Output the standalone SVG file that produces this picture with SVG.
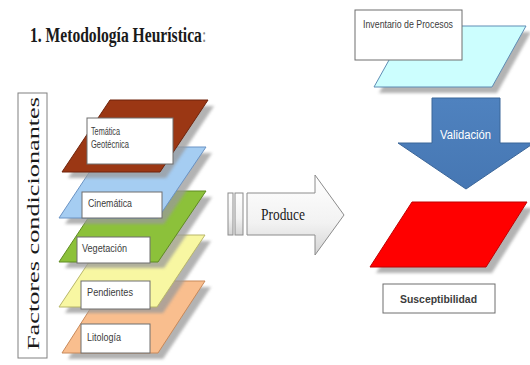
<svg xmlns="http://www.w3.org/2000/svg" width="530" height="365" viewBox="0 0 530 365">
<style>
.shadow{fill:#9a9a9a;opacity:0.75;filter:url(#blur)}
.lbl{fill:#ffffff;stroke:#6e6e6e;stroke-width:1}
.lt{font-family:"Liberation Sans",Arial,sans-serif;font-size:10px;fill:#3c3c3c}
.serif{font-family:"Liberation Serif","Times New Roman",serif}
</style>
<defs>
<filter id="blur" x="-10%" y="-10%" width="130%" height="130%"><feGaussianBlur stdDeviation="1.5"/></filter>
<linearGradient id="gProd" x1="0" y1="0" x2="0" y2="1">
<stop offset="0" stop-color="#ffffff"/>
<stop offset="0.6" stop-color="#f2f2f2"/>
<stop offset="1" stop-color="#d4d4d4"/>
</linearGradient>
<linearGradient id="gVal" x1="0" y1="0" x2="0" y2="1">
<stop offset="0" stop-color="#4f82bf"/>
<stop offset="1" stop-color="#4677b3"/>
</linearGradient>
</defs>
<rect x="0" y="0" width="530" height="365" fill="#ffffff"/>

<g id="title">
<text class="serif" transform="translate(30,42) scale(0.78,1)" x="0" y="0" font-size="20" font-weight="bold" fill="#1a1a1a">1. Metodología Heurística<tspan fill="#8a8a8a" font-weight="normal">:</tspan></text>
</g>

<g id="factores">
<rect x="18" y="93" width="29" height="265" fill="#ffffff" stroke="#808080" stroke-width="1"/>
<text class="serif" transform="translate(39,350) rotate(-90)" font-size="17" fill="#1a1a1a" textLength="253" lengthAdjust="spacingAndGlyphs">Factores condicionantes</text>
</g>

<g id="litologia">
<polygon class="shadow" points="112,287 211,287 163,359 68,359"/>
<polygon points="108,281 205,281 158,353 62,353" fill="#f9be8e" stroke="#c8895a" stroke-width="1"/>
<rect class="lbl" x="81" y="324" width="69" height="29"/>
<text class="lt" x="87" y="341" textLength="34" lengthAdjust="spacingAndGlyphs">Litología</text>
</g>

<g id="pendientes">
<polygon class="shadow" points="111,241 211,241 163,313 65,313"/>
<polygon points="107,235 205,235 157,307 59,307" fill="#f8f7a2" stroke="#b8b66a" stroke-width="1"/>
<rect class="lbl" x="81" y="281" width="69" height="28"/>
<text class="lt" x="87" y="296" textLength="46" lengthAdjust="spacingAndGlyphs">Pendientes</text>
</g>

<g id="vegetacion">
<polygon class="shadow" points="112,197 212,197 164,268 65,268"/>
<polygon points="106,191 206,191 158,262 59,262" fill="#8cc13a" stroke="#5f8a22" stroke-width="1"/>
<rect class="lbl" x="77" y="237" width="73" height="26"/>
<text class="lt" x="82" y="252" textLength="45" lengthAdjust="spacingAndGlyphs">Vegetación</text>
</g>

<g id="cinematica">
<polygon class="shadow" points="112,153 212,153 164,224 65,224"/>
<polygon points="106,147 206,147 158,218 59,218" fill="#a5cdf2" stroke="#6a93c4" stroke-width="1"/>
<rect class="lbl" x="82" y="192" width="80" height="26"/>
<text class="lt" x="88" y="207" textLength="44" lengthAdjust="spacingAndGlyphs">Cinemática</text>
</g>

<g id="tematica">
<polygon class="shadow" points="116,106 214,106 166,178 68,178"/>
<polygon points="110,100 208,100 160,172 62,172" fill="#9b3714" stroke="#6e230b" stroke-width="1"/>
<rect class="lbl" x="87" y="118" width="86" height="46"/>
<text class="lt" x="91" y="135" textLength="29" lengthAdjust="spacingAndGlyphs">Temática</text>
<text class="lt" x="91" y="148" textLength="38" lengthAdjust="spacingAndGlyphs">Geotécnica</text>
</g>

<g id="inventario">
<polygon class="shadow" points="413,32 531,32 497,93 379,93"/>
<polygon points="408,26 526,26 492,87 374,87" fill="#ccfefe" stroke="#5f8db5" stroke-width="1"/>
<rect class="lbl" x="355" y="10" width="107" height="50"/>
<text class="lt" x="363" y="28" textLength="90" lengthAdjust="spacingAndGlyphs">Inventario de Procesos</text>
</g>

<g id="susceptibilidad">
<polygon class="shadow" points="418,208 533,208 492,273 376,273"/>
<polygon points="412,202 527,202 486,267 370,267" fill="#ff0000" stroke="#c00000" stroke-width="1"/>
<rect class="lbl" x="383" y="284" width="112" height="29"/>
<text class="lt" x="400" y="303" font-size="13" font-weight="bold" fill="#262626" textLength="77" lengthAdjust="spacingAndGlyphs">Susceptibilidad</text>
</g>

<g id="connectors">
<g id="produce">
<rect x="228" y="193" width="5" height="42" fill="url(#gProd)" stroke="#8c8c8c" stroke-width="1"/>
<rect x="235" y="193" width="8" height="42" fill="url(#gProd)" stroke="#8c8c8c" stroke-width="1"/>
<polygon points="247,193 315,193 315,175 344,215 315,255 315,235 247,235" fill="url(#gProd)" stroke="#8c8c8c" stroke-width="1"/>
<text class="serif" x="261" y="220" font-size="16" fill="#1a1a1a" textLength="44" lengthAdjust="spacingAndGlyphs">Produce</text>
</g>
<g id="validacion">
<polygon points="432,98 500,98 500,143 534,143 466,189 398,143 432,143" fill="url(#gVal)" stroke="#3b6699" stroke-width="1"/>
<text x="440" y="139" font-family="'Liberation Sans',Arial,sans-serif" font-size="12" fill="#ffffff" textLength="51" lengthAdjust="spacingAndGlyphs">Validación</text>
</g>
</g>
</svg>
